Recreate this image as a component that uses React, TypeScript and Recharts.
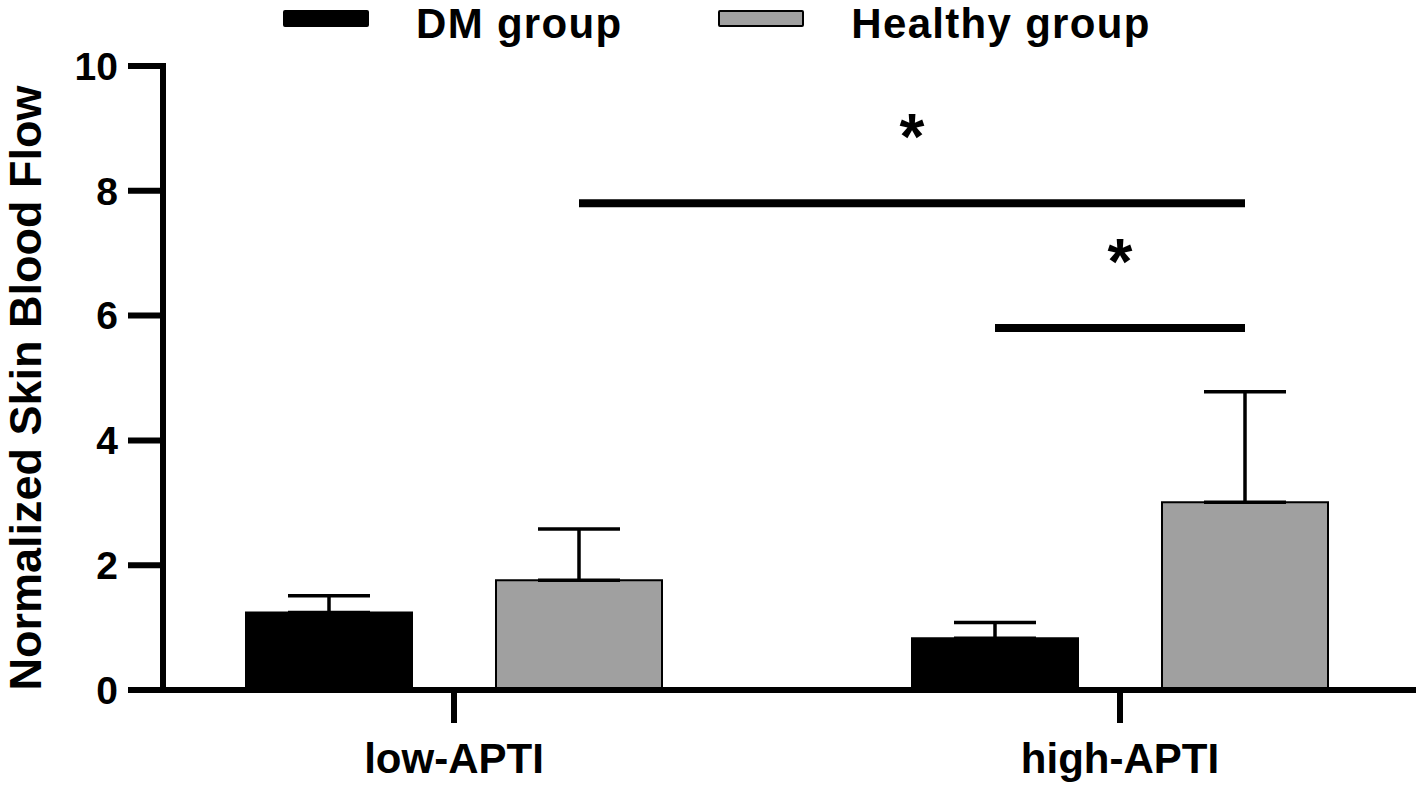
import { BarChart, Bar, XAxis, YAxis, ErrorBar, Legend, ReferenceLine } from "recharts"

const FONT = '"Liberation Sans", Arial, Helvetica, sans-serif'

const categories = ["low-APTI", "high-APTI"]
const dmMean = [1.24, 0.83]
const dmSD = [0.27, 0.25]
const healthyMean = [1.76, 3.01]
const healthySD = [0.82, 1.77]
const yTicks = [0, 2, 4, 6, 8, 10]

// significance brackets, ends given as [category index, series index (0 = DM, 1 = healthy)]
const sigFrom = [[0, 1], [1, 0]]
const sigTo = [[1, 1], [1, 1]]
const sigHeight = [7.8, 5.8]
const sigMark = ["*", "*"]

const BAR_SIZE = 166
const BAR_GAP = 84
const BAND = 666
const PAD = { left: -42, right: -40 }
const shift = (BAR_SIZE + BAR_GAP) / 2 / BAND
const barX = ([cat, s]: number[]) => cat + (s === 0 ? -shift : shift)

const rows = categories.map((c, i) => ({
    category: c,
    idx: i,
    dm: dmMean[i],
    dmErr: [0, dmSD[i]],
    healthy: healthyMean[i],
    healthyErr: [0, healthySD[i]],
}))

function LegendBox(props: any) {
    const payload = props.payload || []
    return (
        <div
            style={{
                display: "flex",
                alignItems: "flex-start",
                height: 47,
                paddingLeft: 283,
                fontFamily: FONT,
                fontWeight: 700,
                fontSize: 42,
                lineHeight: "47px",
                letterSpacing: "1.3px",
                color: "#000",
            }}
        >
            {payload.map((p: any, i: number) => (
                <div key={i} style={{ display: "flex", alignItems: "flex-start", marginRight: 96 }}>
                    <div
                        style={{
                            width: 86,
                            height: 17,
                            marginTop: 10,
                            boxSizing: "border-box",
                            background: p.color,
                            border: "2px solid #000",
                            borderRadius: 2,
                        }}
                    />
                    <span style={{ marginLeft: 47, whiteSpace: "nowrap" }}>{p.value}</span>
                </div>
            ))}
        </div>
    )
}

const starLabel = (mark: string) => (props: any) => {
    const vb = props.viewBox || { x: 0, y: 0, width: 0 }
    return (
        <text x={vb.x + vb.width / 2} y={vb.y - 44} textAnchor="middle" fontSize={64} fontWeight={700} fontFamily={FONT} fill="#000">
            {mark}
        </text>
    )
}

const yTitle = () => (
    <text x={41} y={388} transform="rotate(-90 41 388)" textAnchor="middle" fontSize={45} fontWeight={700} fontFamily={FONT} fill="#000">
        Normalized Skin Blood Flow
    </text>
)

export default function App() {
    return (
        <div style={{ position: "absolute", left: 0, top: 0, background: "#fff" }}>
            <BarChart
                width={1418}
                height={786}
                data={rows}
                margin={{ top: 66, right: 5, bottom: 0, left: 0 }}
                barGap={BAR_GAP}
                barSize={BAR_SIZE}
                style={{ fontFamily: FONT }}
            >
                <XAxis
                    dataKey="category"
                    height={96}
                    padding={PAD}
                    tickSize={33}
                    tickMargin={20}
                    axisLine={{ stroke: "#000", strokeWidth: 6, strokeLinecap: "square" }}
                    tickLine={{ stroke: "#000", strokeWidth: 6 }}
                    tick={{ fill: "#000", fontSize: 42, fontWeight: 700, fontFamily: FONT }}
                />
                <XAxis xAxisId="pos" dataKey="idx" type="number" domain={[-0.5, 1.5]} allowDataOverflow padding={PAD} hide />
                <YAxis
                    width={163}
                    domain={[0, 10]}
                    ticks={yTicks}
                    allowDataOverflow
                    tickSize={35}
                    tickMargin={10}
                    axisLine={{ stroke: "#000", strokeWidth: 6, strokeLinecap: "square" }}
                    tickLine={{ stroke: "#000", strokeWidth: 6 }}
                    tick={{ fill: "#000", fontSize: 39, fontWeight: 700, fontFamily: FONT }}
                    label={yTitle}
                />
                <Legend
                    layout="horizontal"
                    verticalAlign="middle"
                    align="center"
                    content={LegendBox}
                    wrapperStyle={{ top: 0, left: 0, width: 1418, height: 47 }}
                />
                <Bar dataKey="dm" name="DM group" fill="#000000" stroke="#000" strokeWidth={2} isAnimationActive={false}>
                    <ErrorBar dataKey="dmErr" direction="y" width={41} stroke="#000" strokeWidth={3.5} isAnimationActive={false} />
                </Bar>
                <Bar dataKey="healthy" name="Healthy group" fill="#a0a0a0" stroke="#000" strokeWidth={2} isAnimationActive={false}>
                    <ErrorBar dataKey="healthyErr" direction="y" width={41} stroke="#000" strokeWidth={3.5} isAnimationActive={false} />
                </Bar>
                {sigHeight.map((h, i) => (
                    <ReferenceLine
                        key={i}
                        xAxisId="pos"
                        segment={[
                            { x: barX(sigFrom[i]), y: h },
                            { x: barX(sigTo[i]), y: h },
                        ]}
                        stroke="#000"
                        strokeWidth={8}
                        ifOverflow="visible"
                        label={starLabel(sigMark[i])}
                    />
                ))}
            </BarChart>
        </div>
    )
}
